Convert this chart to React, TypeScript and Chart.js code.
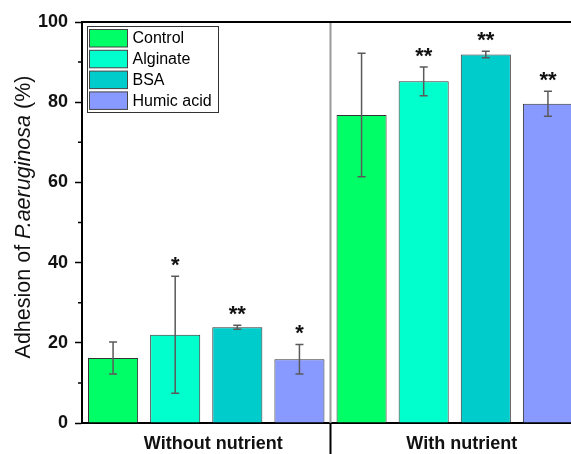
import React, { useEffect, useRef } from "react";
import { Chart, registerables } from "chart.js";

Chart.register(...registerables);

const groups = ["Without nutrient", "With nutrient"];
const seriesNames = ["Control", "Alginate", "BSA", "Humic acid"];
const seriesColors = ["#00FF66", "#00FFCC", "#00CCCC", "#8899FF"];

const controlValues = [16.2, 76.8];
const alginateValues = [22.0, 85.2];
const bsaValues = [23.9, 91.9];
const humicValues = [15.9, 79.6];

const controlErrors = [4.0, 15.4];
const alginateErrors = [14.6, 3.6];
const bsaErrors = [0.5, 0.8];
const humicErrors = [3.7, 3.1];

const controlSig = ["", ""];
const alginateSig = ["*", "**"];
const bsaSig = ["**", "**"];
const humicSig = ["*", "**"];

const yMin = 0;
const yMax = 100;
const yMajorStep = 20;
const yMinorTicks = [10, 30, 50, 70, 90];

const seriesValues = [controlValues, alginateValues, bsaValues, humicValues];
const seriesErrors = [controlErrors, alginateErrors, bsaErrors, humicErrors];
const seriesSig = [controlSig, alginateSig, bsaSig, humicSig];

const FONT = "'Liberation Sans', Arial, sans-serif";

const annotPlugin = {
  id: "annot",
  beforeDatasetsDraw(chart: any) {
    const { ctx, chartArea: a, scales } = chart;
    const x = scales.x;
    const xm = (x.getPixelForValue(0) + x.getPixelForValue(1)) / 2;
    ctx.save();
    ctx.strokeStyle = "#9a9a9a";
    ctx.lineWidth = 2;
    ctx.beginPath();
    ctx.moveTo(xm, a.top);
    ctx.lineTo(xm, a.bottom);
    ctx.stroke();
    ctx.restore();
  },
  afterDatasetsDraw(chart: any) {
    const { ctx, scales } = chart;
    const y = scales.y;
    ctx.save();
    seriesValues.forEach((vals, i) => {
      const meta = chart.getDatasetMeta(i);
      vals.forEach((v, j) => {
        const el = meta.data[j];
        const err = seriesErrors[i][j];
        const xc = el.x;
        const yt = y.getPixelForValue(v + err);
        const yb = y.getPixelForValue(v - err);
        ctx.strokeStyle = "#5a5a5a";
        ctx.lineWidth = 1.5;
        ctx.beginPath();
        ctx.moveTo(xc, yt);
        ctx.lineTo(xc, yb);
        ctx.moveTo(xc - 4, yt);
        ctx.lineTo(xc + 4, yt);
        ctx.moveTo(xc - 4, yb);
        ctx.lineTo(xc + 4, yb);
        ctx.stroke();
        const s = seriesSig[i][j];
        if (s) {
          ctx.fillStyle = "#111";
          ctx.font = `bold 22px ${FONT}`;
          ctx.textAlign = "center";
          ctx.textBaseline = "alphabetic";
          ctx.fillText(s, xc, yt - 4);
        }
      });
    });
    ctx.restore();
  },
  afterDraw(chart: any) {
    const { ctx, chartArea: a, scales } = chart;
    const x = scales.x;
    const y = scales.y;
    ctx.save();
    // top frame
    ctx.strokeStyle = "#000";
    ctx.lineWidth = 2;
    ctx.beginPath();
    ctx.moveTo(a.left, a.top);
    ctx.lineTo(a.right, a.top);
    ctx.moveTo(a.right, a.top);
    ctx.lineTo(a.right, a.bottom);
    ctx.stroke();
    // group separator tick below axis
    const xm = (x.getPixelForValue(0) + x.getPixelForValue(1)) / 2;
    ctx.lineWidth = 2;
    ctx.beginPath();
    ctx.moveTo(xm, a.bottom);
    ctx.lineTo(xm, chart.height);
    ctx.stroke();
    // minor y ticks
    ctx.lineWidth = 1.5;
    ctx.beginPath();
    yMinorTicks.forEach((t) => {
      const py = y.getPixelForValue(t);
      ctx.moveTo(a.left - 4, py);
      ctx.lineTo(a.left, py);
    });
    ctx.stroke();

    // legend
    const lx = 87.5, ly = 26.5, lw = 131, lh = 86;
    ctx.fillStyle = "#fff";
    ctx.fillRect(lx, ly, lw, lh);
    ctx.strokeStyle = "#333";
    ctx.lineWidth = 1;
    ctx.strokeRect(lx, ly, lw, lh);
    seriesNames.forEach((name, i) => {
      const top = 29.5 + i * 20.8;
      ctx.fillStyle = seriesColors[i];
      ctx.fillRect(89.5, top, 38, 17.5);
      ctx.strokeStyle = "#444";
      ctx.strokeRect(89.5, top, 38, 17.5);
      ctx.fillStyle = "#000";
      ctx.font = `16px ${FONT}`;
      ctx.textAlign = "left";
      ctx.textBaseline = "middle";
      ctx.fillText(name, 132.5, top + 9.5);
    });

    // y-axis title with italic species name
    const parts = [
      { t: "Adhesion of ", f: `21.5px ${FONT}` },
      { t: "P.aeruginosa", f: `italic 21.5px ${FONT}` },
      { t: " (%)", f: `21.5px ${FONT}` },
    ];
    let total = 0;
    parts.forEach((p) => {
      ctx.font = p.f;
      total += ctx.measureText(p.t).width;
    });
    ctx.translate(30, 217);
    ctx.rotate(-Math.PI / 2);
    ctx.fillStyle = "#111";
    ctx.textAlign = "left";
    ctx.textBaseline = "alphabetic";
    let cx = -total / 2;
    parts.forEach((p) => {
      ctx.font = p.f;
      ctx.fillText(p.t, cx, 0);
      cx += ctx.measureText(p.t).width;
    });
    ctx.restore();
  },
};

export default function App() {
  const ref = useRef<HTMLCanvasElement | null>(null);

  useEffect(() => {
    document.body.style.margin = "0";
    document.body.style.overflow = "hidden";
    const canvas = ref.current;
    if (!canvas) return;
    const chart = new Chart(canvas, {
      type: "bar",
      data: {
        labels: groups,
        datasets: seriesNames.map((name, i) => ({
          label: name,
          data: seriesValues[i],
          backgroundColor: seriesColors[i],
          borderColor: "#333",
          borderWidth: 1,
          categoryPercentage: 1.0,
          barPercentage: 0.806,
        })),
      },
      options: {
        animation: false,
        responsive: false,
        devicePixelRatio: 1,
        layout: { padding: { top: 22, right: 1, left: 0, bottom: 0 } },
        plugins: {
          legend: { display: false },
          tooltip: { enabled: false },
        },
        scales: {
          x: {
            grid: { display: false },
            border: { display: true, color: "#000", width: 2 },
            ticks: {
              color: "#111",
              font: { family: FONT, size: 18, weight: "bold" },
              padding: 2,
              labelOffset: 7,
              maxRotation: 0,
            },
            afterFit: (s: any) => {
              s.height = 31;
            },
          },
          y: {
            min: yMin,
            max: yMax,
            ticks: {
              stepSize: yMajorStep,
              color: "#111",
              font: { family: FONT, size: 18, weight: "bold" },
              padding: 7,
            },
            grid: {
              display: true,
              drawOnChartArea: false,
              drawTicks: true,
              tickLength: 7,
              tickColor: "#000",
              tickWidth: 1.5,
            },
            border: { display: true, color: "#000", width: 2 },
            afterFit: (s: any) => {
              s.width = 82;
            },
          },
        },
      },
      plugins: [annotPlugin],
    } as any);
    return () => chart.destroy();
  }, []);

  return (
    <div
      style={{
        position: "fixed",
        left: 0,
        top: 0,
        width: 571,
        height: 454,
        overflow: "hidden",
        background: "#fff",
      }}
    >
      <canvas ref={ref} width={580} height={454} style={{ display: "block" }} />
    </div>
  );
}
